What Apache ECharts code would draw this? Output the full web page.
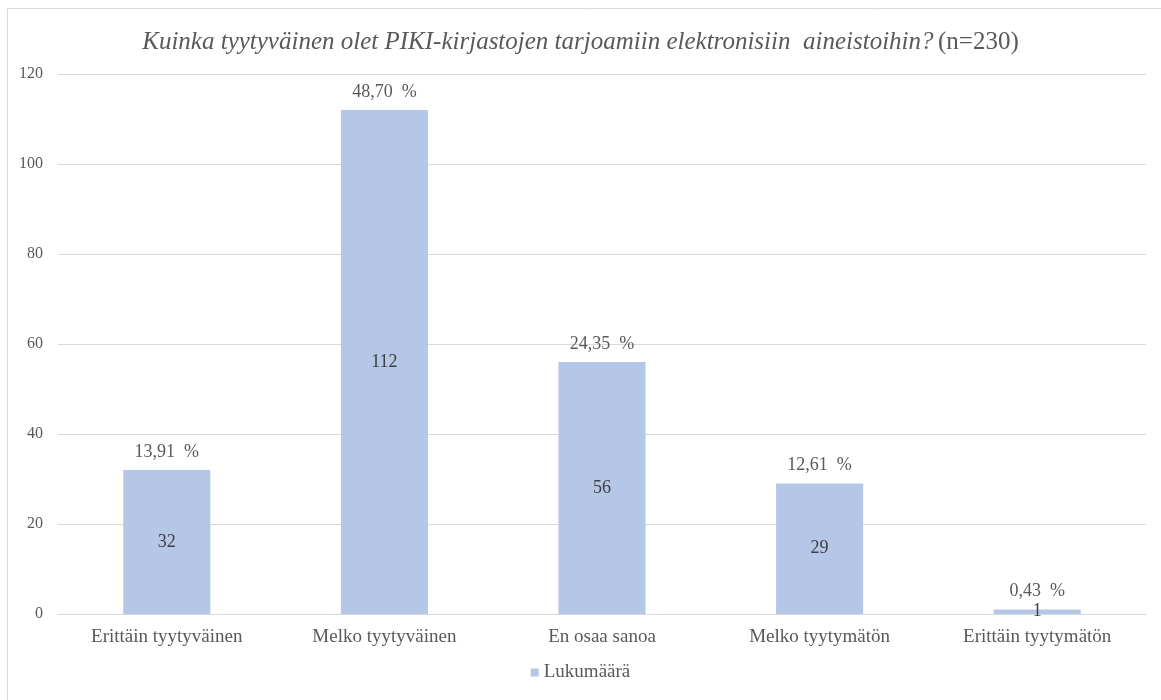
<!DOCTYPE html>
<html>
<head>
<meta charset="utf-8">
<script src="https://cdn.jsdelivr.net/npm/echarts@6/dist/echarts.min.js"></script>
<style>
  html, body { margin: 0; padding: 0; background: #fff; }
  #chart { width: 1161px; height: 700px; }
</style>
</head>
<body>
<div id="chart"></div>
<script>
// kategoriat ja arvot
const categories = ['Erittäin tyytyväinen', 'Melko tyytyväinen', 'En osaa sanoa', 'Melko tyytymätön', 'Erittäin tyytymätön'];
const counts = [32, 112, 56, 29, 1];
const percents = ['13,91', '48,70', '24,35', '12,61', '0,43'];
const yTicks = [0, 20, 40, 60, 80, 100, 120];

const txt = '#595959';
const font = '"Liberation Serif", "DejaVu Serif", serif';

const chart = echarts.init(document.getElementById('chart'));
chart.setOption({
  backgroundColor: '#fff',
  textStyle: { fontFamily: font, color: txt },
  graphic: [{
    // kehys
    type: 'rect',
    shape: { x: 7.5, y: 8.5, width: 1170, height: 720 },
    style: { fill: 'none', stroke: '#d9d9d9', lineWidth: 1 },
    silent: true
  }],
  title: {
    left: 'center',
    top: 25,
    text: '{i|Kuinka tyytyväinen olet PIKI-kirjastojen tarjoamiin elektronisiin  aineistoihin?} {n|(n=230)}',
    textStyle: {
      fontWeight: 'normal',
      rich: {
        i: { fontFamily: font, fontStyle: 'italic', fontWeight: 'normal', fontSize: 25, color: txt },
        n: { fontFamily: font, fontWeight: 'normal', fontSize: 25, color: txt }
      }
    }
  },
  legend: {
    bottom: 13,
    left: 'center',
    itemWidth: 8,
    itemHeight: 8,
    itemGap: 6,
    icon: 'rect',
    textStyle: { fontFamily: font, fontSize: 19, color: txt },
    data: ['Lukumäärä']
  },
  grid: { left: 58, right: 15, top: 74, bottom: 86, containLabel: false },
  xAxis: {
    type: 'category',
    data: categories,
    axisLine: { lineStyle: { color: '#d9d9d9' } },
    axisTick: { show: false },
    axisLabel: { fontFamily: font, fontSize: 19, color: txt, margin: 14 }
  },
  yAxis: {
    type: 'value',
    min: yTicks[0],
    max: yTicks[yTicks.length - 1],
    interval: 20,
    axisLine: { show: false },
    axisTick: { show: false },
    axisLabel: { fontFamily: font, fontSize: 16, color: txt, margin: 15 },
    splitLine: { lineStyle: { color: '#d9d9d9' } }
  },
  series: [
    {
      name: 'Lukumäärä',
      type: 'bar',
      data: counts,
      barWidth: '40%',
      itemStyle: { color: '#b4c7e7' },
      label: {
        show: true,
        position: 'inside',
        fontFamily: font,
        fontSize: 18,
        color: '#404040'
      }
    },
    {
      name: 'pct',
      type: 'bar',
      data: counts,
      barWidth: '40%',
      barGap: '-100%',
      itemStyle: { color: 'rgba(0,0,0,0)' },
      silent: true,
      label: {
        show: true,
        position: 'top',
        distance: 9,
        fontFamily: font,
        fontSize: 18,
        color: txt,
        formatter: p => percents[p.dataIndex] + '  %'
      }
    }
  ]
});
</script>
</body>
</html>
